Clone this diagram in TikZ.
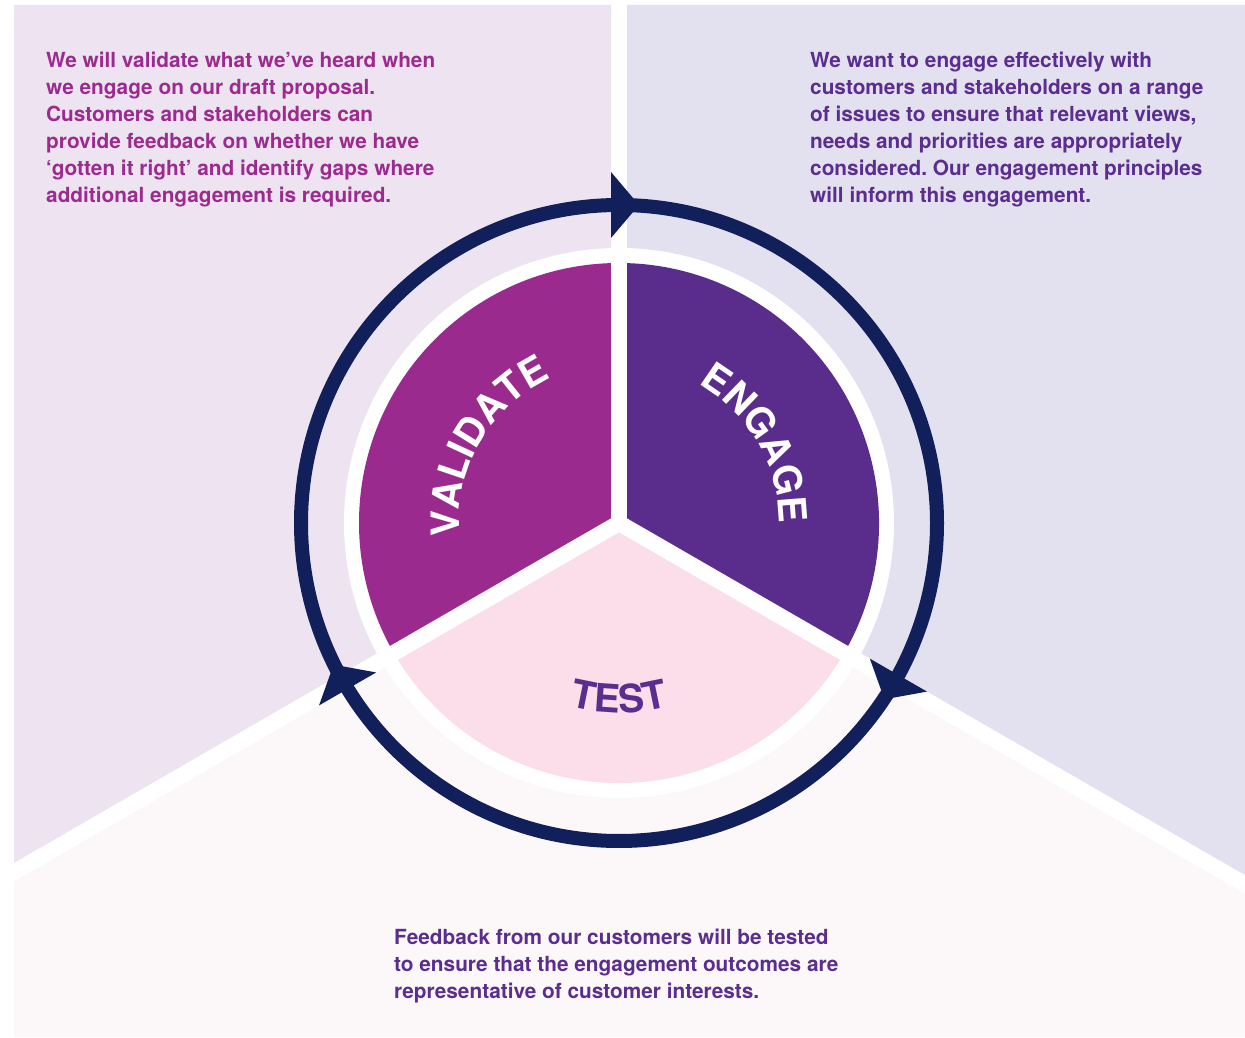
\documentclass[tikz,border=0pt]{standalone}
\usepackage{fontspec}
\setmainfont{TeX Gyre Heros}
\usetikzlibrary{decorations.text,calc}
\definecolor{panelL}{RGB}{238,227,240}
\definecolor{panelR}{RGB}{227,224,239}
\definecolor{panelB}{RGB}{252,247,249}
\definecolor{secV}{RGB}{154,42,141}
\definecolor{secE}{RGB}{90,45,140}
\definecolor{secT}{RGB}{252,222,234}
\definecolor{ringc}{RGB}{17,31,90}
\definecolor{txtV}{RGB}{155,43,143}
\definecolor{txtE}{RGB}{90,45,142}
\newcommand\bodyfont{\fontsize{20.8}{27}\selectfont\bfseries\frenchspacing}
\newcommand\labfont{\fontsize{39}{39}\selectfont\bfseries}
\begin{document}
\begin{tikzpicture}[x=1pt,y=1pt,
  body/.style={anchor=north west, inner sep=0pt, align=left, font=\bodyfont},
  gap/.style={draw=white, line width=16pt},
  ringline/.style={draw=ringc, line width=14pt},
  arrowhd/.style={fill=ringc},
  curvelab/.style 2 args={decorate, decoration={text along path, text align=center, text color=#1, text={#2}}}
]
\useasboundingbox (0,0) rectangle (1245,1037);
\fill[white] (0,0) rectangle (1245,1037);
\coordinate (c) at (619,514);
% background panels
\fill[panelL] (14,1032) -- (619,1032) -- (c) -- (14,164.7) -- cycle;
\fill[panelR] (619,1032) -- (1245,1032) -- (1245,152.6) -- (c) -- cycle;
\fill[panelB] (c) -- (14,164.7) -- (14,0) -- (1245,0) -- (1245,152.6) -- cycle;
% white disc and pie
\fill[white] (c) circle[radius=275pt];
\fill[secV] (c) -- ++(90:260pt) arc[start angle=90, end angle=210, radius=260pt] -- cycle;
\fill[secE] (c) -- ++(-30:260pt) arc[start angle=-30, end angle=90, radius=260pt] -- cycle;
\fill[secT] (c) -- ++(210:260pt) arc[start angle=210, end angle=330, radius=260pt] -- cycle;
% white gaps
\draw[gap] (c) -- (619,1045);
\draw[gap] (c) -- ++(210:800pt);
\draw[gap] (c) -- ++(-30:800pt);
% ring and arrowheads
\draw[ringline] (c) circle[radius=318pt];
\foreach \a in {90,-30,210} {
  \fill[arrowhd, shift={(c)}, rotate=\a-90] (-8,285) -- (20,318) -- (-8,351) -- cycle;
}
% curved labels
\path[curvelab={white}{|\labfont|VALIDATE}] ($(c)+(215:160pt)$) arc[start angle=215, end angle=85, radius=160pt];
\path[curvelab={white}{|\labfont|ENGAGE}] ($(c)+(95:160pt)$) arc[start angle=95, end angle=-35, radius=160pt];
\path[curvelab={txtE}{|\labfont|TEST}] ($(c)+(200:190pt)$) arc[start angle=200, end angle=340, radius=190pt];
% body texts
\node[body, text=txtV] (tv) at (46,986) {\rule{0pt}{16pt}We will validate what we’ve heard when\\we engage on our draft proposal.\\Customers and stakeholders can\\provide feedback on whether we have\\‘gotten it right’ and identify gaps where\\additional engagement is required.};
\node[body, text=txtE] (te) at (810,986) {\rule{0pt}{16pt}We want to engage effectively with\\customers and stakeholders on a range\\of issues to ensure that relevant views,\\needs and priorities are appropriately\\considered. Our engagement principles\\will inform this engagement.};
\node[body, text=txtE] (tt) at (394,109) {\rule{0pt}{16pt}Feedback from our customers will be tested\\to ensure that the engagement outcomes are\\representative of customer interests.};
\end{tikzpicture}
\end{document}
